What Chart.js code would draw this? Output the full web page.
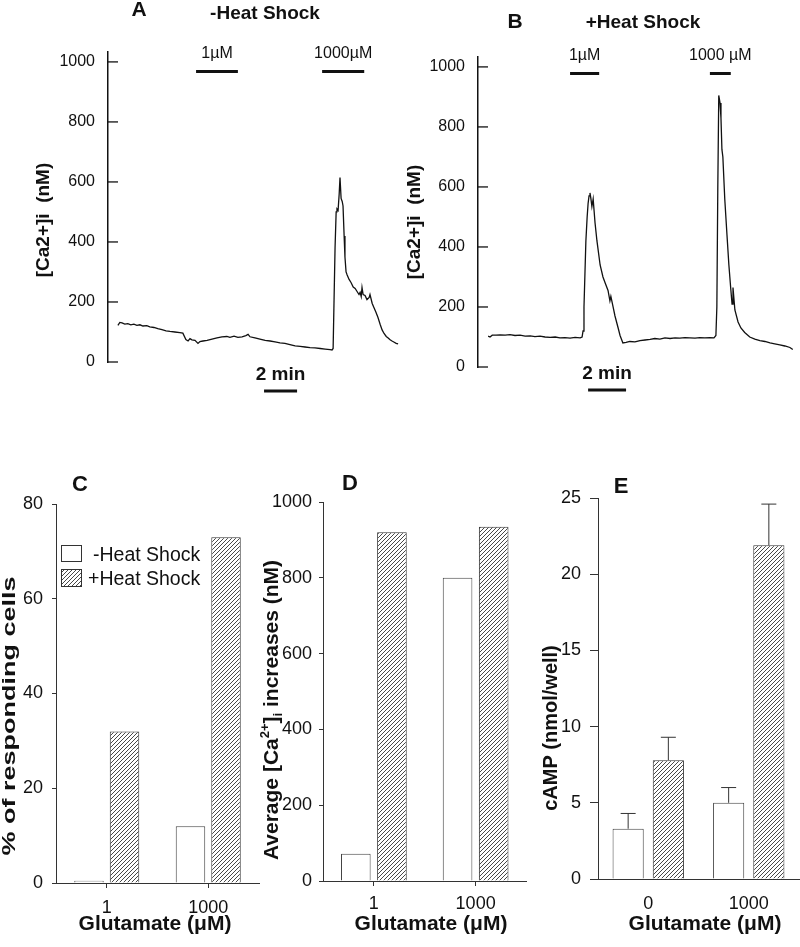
<!DOCTYPE html>
<html>
<head>
<meta charset="utf-8">
<title>Glutamate responses</title>
<script src="https://cdn.jsdelivr.net/npm/chart.js@4/dist/chart.umd.min.js"></script>
<style>
  body { margin: 0; background: #fff; }
  #wrap { position: relative; width: 800px; height: 947px; overflow: hidden; }
  canvas { position: absolute; }
</style>
</head>
<body>
<div id="wrap">
  <canvas id="chartA" width="400" height="420" style="left:0;top:0"></canvas>
  <canvas id="chartB" width="400" height="420" style="left:400px;top:0"></canvas>
  <canvas id="chartC" width="265" height="477" style="left:0;top:470px"></canvas>
  <canvas id="chartD" width="280" height="477" style="left:250px;top:470px"></canvas>
  <canvas id="chartE" width="270" height="477" style="left:530px;top:470px"></canvas>
</div>
<script>
// ---- data ----
// panel A: -heat shock trace, time in seconds, [Ca2+]i in nM
const timeA = [0,7,15,25,36,47,58,69,80,91,105,116,131,145,160,175,189,207,225,236,247,255,262,269,280,291,298,309,324,342,360,378,396,407,422,436,451,465,473,480,498,516,535,553,571,589,607,625,644,662,680,698,716,735,753,771,778,782,789,793,796,800,804,807,811,815,818,822,825,829,833,840,847,855,862,869,876,880,884,887,891,898,905,913,916,924,931,938,945,953,960,967,975,982,989,996,1004,1011,1018];
const caA = [122,132,130,126,128,124,126,122,124,120,121,117,115,111,108,104,102,100,98,96,75,70,78,74,72,62,68,70,72,76,80,84,85,82,86,82,84,88,92,84,80,76,72,70,67,64,62,58,54,52,50,48,47,45,43,41,40,45,380,500,510,505,560,615,545,535,520,420,350,300,290,275,265,250,245,235,225,232,218,248,225,222,208,215,225,195,180,165,148,125,107,95,85,80,74,70,66,62,60];

// panel B: +heat shock trace
const timeB = [0,6,13,25,38,54,69,85,101,117,133,148,164,180,196,212,227,243,259,275,291,297,300,303,306,309,313,316,319,322,325,328,332,335,338,344,354,363,370,379,385,388,395,401,411,417,426,436,448,464,480,496,512,527,543,559,575,591,606,622,638,654,669,685,701,714,720,723,726,729,733,736,739,742,748,755,761,767,771,774,780,790,799,811,827,843,859,875,891,906,922,938,954,963];
const caB = [103,100,106,106,107,106,108,105,106,103,104,101,103,100,99,100,97,98,96,99,97,100,120,200,310,420,500,545,570,580,560,535,560,520,480,420,340,300,280,255,220,235,200,170,130,105,80,82,85,84,88,90,92,95,93,97,95,97,96,98,97,96,98,97,98,97,105,200,600,905,880,830,725,700,560,440,340,260,210,265,190,150,130,115,100,93,88,85,80,77,74,70,65,58];

// glutamate application windows (s)
const stimA = [{ label: '1µM', from: 284, to: 436 }, { label: '1000µM', from: 742, to: 895 }];
const stimB = [{ label: '1µM', from: 259, to: 351 }, { label: '1000 µM', from: 701, to: 767 }];

const traceTicks = [0, 200, 400, 600, 800, 1000];

// panels C-E
const doseCD = ['1', '1000'];
const doseE = ['0', '1000'];
const respondNoHS = [0.5, 12];
const respondHS = [32, 73];
const riseNoHS = [72, 800];
const riseHS = [920, 935];
const campNoHS = [3.3, 5.0];
const campHS = [7.8, 21.9];
const campErrNoHS = [1.0, 1.0];
const campErrHS = [1.5, 2.7];

const ticksC = [0, 20, 40, 60, 80];
const ticksD = [0, 200, 400, 600, 800, 1000];
const ticksE = [0, 5, 10, 15, 20, 25];

// ---- helpers ----
const FONT = "'Liberation Sans', Arial, Helvetica, sans-serif";
Chart.defaults.font.family = FONT;
Chart.defaults.color = '#111';
Chart.defaults.animation = false;
Chart.defaults.plugins.legend.display = false;
Chart.defaults.plugins.tooltip.enabled = false;

const INK = '#111';
const plain = v => String(v);

function text(ctx, str, x, y, font, opts = {}) {
  ctx.save();
  ctx.translate(x, y);
  if (opts.rot) ctx.rotate(-Math.PI / 2);
  ctx.scale(opts.sx || 1, 1);
  ctx.font = font;
  ctx.fillStyle = INK;
  ctx.textAlign = opts.align || 'center';
  ctx.textBaseline = 'middle';
  ctx.fillText(str, 0, 0);
  ctx.restore();
}

// rotated text with super/subscripts
function richText(ctx, parts, x, y, size) {
  ctx.save();
  ctx.translate(x, y);
  ctx.rotate(-Math.PI / 2);
  ctx.fillStyle = INK;
  ctx.textAlign = 'left';
  ctx.textBaseline = 'alphabetic';
  const fontFor = p => `bold ${p.sup || p.sub ? size * 0.62 : size}px ${FONT}`;
  let w = 0;
  parts.forEach(p => { ctx.font = fontFor(p); w += ctx.measureText(p.t).width; });
  let cx = -w / 2;
  parts.forEach(p => {
    ctx.font = fontFor(p);
    const dy = p.sup ? -size * 0.42 : p.sub ? size * 0.22 : 0;
    ctx.fillText(p.t, cx, size * 0.36 + dy);
    cx += ctx.measureText(p.t).width;
  });
  ctx.restore();
}

function makeHatch() {
  const c = document.createElement('canvas');
  c.width = 4; c.height = 4;
  const g = c.getContext('2d');
  g.fillStyle = '#fff';
  g.fillRect(0, 0, 4, 4);
  g.strokeStyle = '#333';
  g.lineWidth = 0.9;
  g.beginPath();
  g.moveTo(-1, 5); g.lineTo(5, -1);
  g.moveTo(-1, 1); g.lineTo(1, -1);
  g.moveTo(3, 5); g.lineTo(5, 3);
  g.stroke();
  return g.createPattern(c, 'repeat');
}
const hatch = makeHatch();

// ---- calcium traces (A, B) ----
function traceDeco(cfg) {
  return {
    id: 'traceDeco',
    afterDraw(chart) {
      const { ctx, chartArea, scales: { x, y } } = chart;
      ctx.save();
      ctx.strokeStyle = INK;
      // inward tick marks
      ctx.lineWidth = 1.3;
      y.ticks.forEach(t => {
        const py = y.getPixelForValue(t.value);
        ctx.beginPath();
        ctx.moveTo(chartArea.left, py);
        ctx.lineTo(chartArea.left + 10, py);
        ctx.stroke();
      });
      // glutamate bars
      ctx.lineWidth = 3;
      cfg.stim.forEach(s => {
        const x0 = x.getPixelForValue(s.from), x1 = x.getPixelForValue(s.to);
        ctx.beginPath();
        ctx.moveTo(x0, cfg.stimY);
        ctx.lineTo(x1, cfg.stimY);
        ctx.stroke();
        text(ctx, s.label, (x0 + x1) / 2 + (s.dx || 0), cfg.stimLabelY, `16px ${FONT}`);
      });
      // 2 min scale bar
      const s0 = x.getPixelForValue(cfg.scaleFrom), s1 = x.getPixelForValue(cfg.scaleFrom + 120);
      ctx.beginPath();
      ctx.moveTo(s0, cfg.scaleY);
      ctx.lineTo(s1, cfg.scaleY);
      ctx.stroke();
      text(ctx, '2 min', (s0 + s1) / 2, cfg.scaleY - 16, `bold 19px ${FONT}`);
      // letters, titles
      text(ctx, cfg.letter, cfg.letterX, cfg.letterY, `bold 21px ${FONT}`);
      text(ctx, cfg.title, cfg.titleX, cfg.titleY, `bold 19px ${FONT}`);
      text(ctx, '[Ca2+]i  (nM)', cfg.yTitleX, cfg.yTitleY, `bold 19px ${FONT}`, { rot: true });
      ctx.restore();
    }
  };
}

function traceChart(id, times, values, xMin, xMax, padding, cfg) {
  return new Chart(document.getElementById(id), {
    type: 'line',
    data: {
      datasets: [{
        data: times.map((t, i) => ({ x: t, y: values[i] })),
        borderColor: INK,
        borderWidth: 1.3,
        pointRadius: 0,
        tension: 0,
        fill: false
      }]
    },
    options: {
      responsive: false,
      layout: { padding },
      scales: {
        x: { type: 'linear', min: xMin, max: xMax, display: false },
        y: {
          min: 0,
          max: 1033,
          afterBuildTicks: s => { s.ticks = traceTicks.map(v => ({ value: v })); },
          afterFit: s => { s.width = cfg.axisW; },
          grid: { display: false, drawTicks: false },
          border: { color: INK, width: 1.5 },
          ticks: { font: { size: 16 }, padding: 13, color: INK, callback: plain }
        }
      }
    },
    plugins: [traceDeco(cfg)]
  });
}

traceChart('chartA', timeA, caA, -36, 1025, { top: 52, right: 0, bottom: 58, left: 0 }, {
  axisW: 108, stim: stimA, stimY: 71.5, stimLabelY: 54, scaleFrom: 531, scaleY: 391,
  letter: 'A', letterX: 139, letterY: 10, title: '-Heat Shock', titleX: 265, titleY: 14,
  yTitleX: 44, yTitleY: 220
});

traceChart('chartB', timeB, caB, -32, 970, { top: 57, right: 5, bottom: 53, left: 0 }, {
  axisW: 78, stim: stimB, stimY: 73.5, stimLabelY: 56, scaleFrom: 316, scaleY: 390,
  letter: 'B', letterX: 115, letterY: 22, title: '+Heat Shock', titleX: 243, titleY: 23,
  yTitleX: 15, yTitleY: 222
});

// ---- bar panels (C, D, E) ----
function barChart(id, labels, noHS, hs, yMax, yTicks, o, extra) {
  return new Chart(document.getElementById(id), {
    type: 'bar',
    data: {
      labels,
      datasets: [
        { label: '-Heat Shock', data: noHS, backgroundColor: '#fff', borderColor: '#444', borderWidth: 1,
          categoryPercentage: o.cat, barPercentage: o.bar },
        { label: '+Heat Shock', data: hs, backgroundColor: hatch, borderColor: '#333', borderWidth: 1,
          categoryPercentage: o.cat, barPercentage: o.bar }
      ]
    },
    options: {
      responsive: false,
      layout: { padding: { top: o.top, right: o.right, left: 0, bottom: 0 } },
      scales: {
        x: {
          offset: true,
          afterFit: s => { s.height = o.xH; },
          grid: { display: o.xTicks, offset: false, drawOnChartArea: false, tickLength: 5, color: '#333' },
          border: { color: '#333', width: 1 },
          ticks: { font: { size: 18 }, padding: o.xPad, color: INK }
        },
        y: {
          min: 0,
          max: yMax,
          afterBuildTicks: s => { s.ticks = yTicks.map(v => ({ value: v })); },
          afterFit: s => { s.width = o.yW; },
          grid: { drawOnChartArea: false, tickLength: o.tick, color: '#333' },
          border: { color: '#333', width: 1 },
          ticks: { font: { size: 18 }, padding: o.yPad, color: INK, callback: plain }
        }
      }
    },
    plugins: [{
      id: 'barDeco',
      afterDraw(chart) {
        const { ctx } = chart;
        text(ctx, o.letter, o.letterX, o.letterY, `bold 22px ${FONT}`);
        text(ctx, 'Glutamate (μM)', o.xTitleX, 454, `bold 21px ${FONT}`);
        extra(chart);
      }
    }]
  });
}

barChart('chartC', doseCD, respondNoHS, respondHS, 80, ticksC, {
  cat: 0.7, bar: 0.83, top: 34, right: 6, xH: 64, yW: 56, tick: 4, yPad: 9, xPad: 9, xTicks: true,
  letter: 'C', letterX: 80, letterY: 15, xTitleX: 155
}, chart => {
  const { ctx } = chart;
  text(ctx, '% of responding cells', 10, 246, `bold 18px ${FONT}`, { rot: true, sx: 1.5 });
  // legend
  ctx.save();
  ctx.strokeStyle = '#333';
  ctx.lineWidth = 1;
  ctx.fillStyle = '#fff';
  ctx.fillRect(61, 75, 21, 17);
  ctx.strokeRect(61.5, 75.5, 20, 16);
  ctx.fillStyle = hatch;
  ctx.fillRect(61, 99, 21, 18);
  ctx.strokeRect(61.5, 99.5, 20, 17);
  ctx.restore();
  text(ctx, '-Heat Shock', 93, 86, `19.5px ${FONT}`, { align: 'left' });
  text(ctx, '+Heat Shock', 88, 110, `19.5px ${FONT}`, { align: 'left' });
});

barChart('chartD', doseCD, riseNoHS, riseHS, 1000, ticksD, {
  cat: 0.71, bar: 0.82, top: 32, right: 3.5, xH: 66, yW: 73, tick: 4, yPad: 7, xPad: 7, xTicks: true,
  letter: 'D', letterX: 100, letterY: 14, xTitleX: 181
}, chart => {
  richText(chart.ctx, [
    { t: 'Average [Ca' }, { t: '2+', sup: true }, { t: ']' }, { t: 'i', sub: true }, { t: ' increases (nM)' }
  ], 20, 240, 21);
});

barChart('chartE', doseE, campNoHS, campHS, 25, ticksE, {
  cat: 0.8, bar: 0.775, top: 28, right: 1, xH: 68, yW: 68, tick: 8, yPad: 9, xPad: 9, xTicks: false,
  letter: 'E', letterX: 91, letterY: 17, xTitleX: 175
}, chart => {
  const { ctx, scales: { y } } = chart;
  const errs = [campErrNoHS, campErrHS];
  ctx.save();
  ctx.strokeStyle = '#333';
  ctx.lineWidth = 1;
  chart.data.datasets.forEach((ds, i) => {
    chart.getDatasetMeta(i).data.forEach((bar, j) => {
      const top = y.getPixelForValue(ds.data[j] + errs[i][j]);
      ctx.beginPath();
      ctx.moveTo(bar.x, bar.y);
      ctx.lineTo(bar.x, top);
      ctx.moveTo(bar.x - 7.5, top);
      ctx.lineTo(bar.x + 7.5, top);
      ctx.stroke();
    });
  });
  ctx.restore();
  text(ctx, 'cAMP (nmol/well)', 21, 258, `bold 20px ${FONT}`, { rot: true });
});
</script>
</body>
</html>
